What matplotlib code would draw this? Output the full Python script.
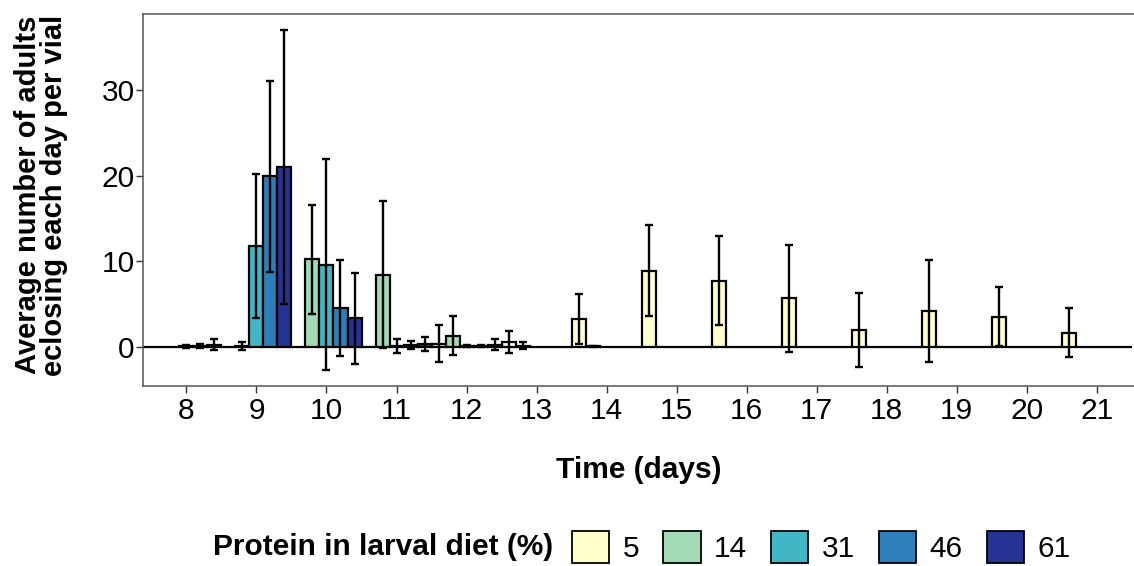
import numpy as np
import matplotlib
matplotlib.use("Agg")
import matplotlib.pyplot as plt
from matplotlib.patches import Patch

plt.rcParams['font.family'] = ['Liberation Sans', 'DejaVu Sans']

days = [7, 8, 9, 10, 11, 12, 13, 14, 15, 16, 17, 18, 19, 20, 21]
groups = ['5', '14', '31', '46', '61']
colors = ['#FFFFCC', '#A1DAB4', '#41B6C4', '#2C7FB8', '#253494']

mean_5 = [0, 0, 0, 0, 0, 0.35, 0.57, 3.2, 8.9, 7.7, 5.66, 1.95, 4.2, 3.5, 1.65]
sd_5 = [0, 0, 0, 0, 0, 2.15, 1.27, 2.9, 5.3, 5.2, 6.25, 4.35, 5.95, 3.45, 2.85]
mean_14 = [0, 0, 0.1, 10.2, 8.4, 1.3, 0.12, 0.02, 0, 0, 0, 0, 0, 0, 0]
sd_14 = [0, 0, 0.45, 6.4, 8.6, 2.3, 0.43, 0.05, 0, 0, 0, 0, 0, 0, 0]
mean_31 = [0, 0.05, 11.8, 9.6, 0.12, 0.08, 0, 0, 0, 0, 0, 0, 0, 0, 0]
sd_31 = [0, 0.2, 8.4, 12.3, 0.82, 0.15, 0, 0, 0, 0, 0, 0, 0, 0, 0]
mean_46 = [0, 0.1, 19.9, 4.5, 0.2, 0.05, 0, 0, 0, 0, 0, 0, 0, 0, 0]
sd_46 = [0, 0.25, 11.2, 5.6, 0.45, 0.1, 0, 0, 0, 0, 0, 0, 0, 0, 0]
mean_61 = [0, 0.25, 21.0, 3.3, 0.35, 0.24, 0, 0, 0, 0, 0, 0, 0, 0, 0]
sd_61 = [0, 0.6, 16.0, 5.3, 0.8, 0.62, 0, 0, 0, 0, 0, 0, 0, 0, 0]

means = [mean_5, mean_14, mean_31, mean_46, mean_61]
sds = [sd_5, sd_14, sd_31, sd_46, sd_61]

fig = plt.figure(figsize=(11.34, 5.66), dpi=100)
ax = fig.add_axes([143/1134, 1-386/566, 1-143/1134, (386-14)/566])

width = 0.2
offsets = [-0.4, -0.2, 0.0, 0.2, 0.4]
d = np.array(days, dtype=float)
for g, (m, s, c, off) in enumerate(zip(means, sds, colors, offsets)):
    x = d + off
    ax.bar(x, m, width=width, color=c, edgecolor='black', linewidth=1.6, zorder=2)
    m_arr = np.array(m, dtype=float)
    s_arr = np.array(s, dtype=float)
    mask = s_arr > 0
    ax.errorbar(x[mask], m_arr[mask], yerr=s_arr[mask], fmt='none', ecolor='black',
                elinewidth=1.7, capsize=2.8, capthick=1.7, zorder=3)

ax.set_xlim(7.38, 21.53)
ax.set_ylim(-4.6, 38.9)
ax.set_xticks(range(8, 22))
ax.set_yticks([0, 10, 20, 30])
ax.tick_params(axis='both', labelsize=21.5, length=5, width=1, color='#333333',
               labelcolor='black')
ax.tick_params(axis='y', pad=1)
ax.tick_params(axis='x', pad=3)
for sp in ['top', 'left', 'bottom']:
    ax.spines[sp].set_color('#555555')
    ax.spines[sp].set_linewidth(1.1)
ax.spines['right'].set_visible(False)

ax.set_xlabel('Time (days)', fontsize=21.5, fontweight='bold', labelpad=22)
fig.text(41/1134, 1-195/566, 'Average number of adults\neclosing each day per vial',
         rotation=90, fontsize=21, fontweight='bold', ha='center', va='center',
         linespacing=0.95)

fig.text(213/1134, 1-547/566, 'Protein in larval diet (%)', fontsize=21.5,
         fontweight='bold', ha='left', va='center')
handles = [Patch(facecolor=c, edgecolor='black', linewidth=1.3) for c in colors]
leg = fig.legend(handles, groups, loc='center left', bbox_to_anchor=(572/1134, 1-547/566),
                 ncol=5, frameon=False, fontsize=21.5, handlelength=1.25, handleheight=1.25,
                 handletextpad=0.45, columnspacing=0.8, borderpad=0, borderaxespad=0)

fig.savefig('out.png', dpi=100)
